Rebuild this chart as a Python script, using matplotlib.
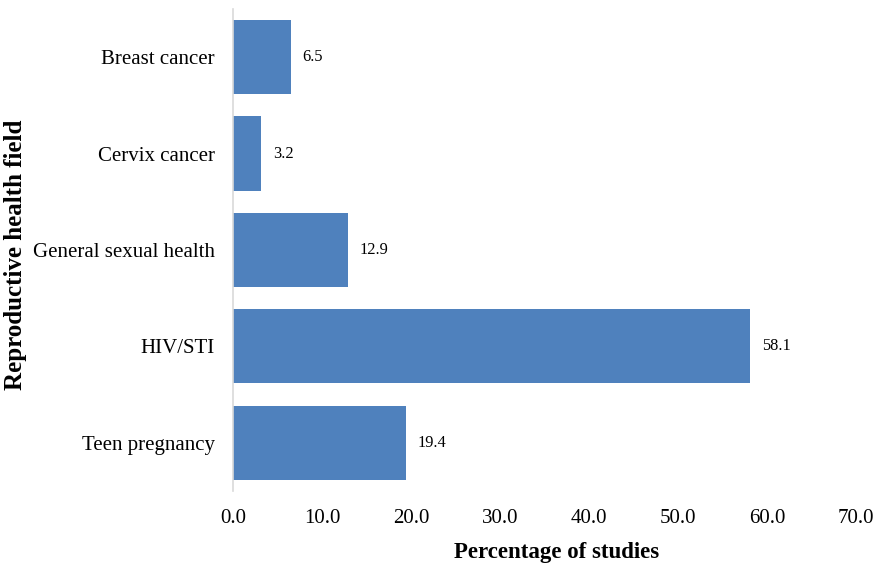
import matplotlib
matplotlib.use("Agg")
import matplotlib.pyplot as plt

# data
fields = ["Breast cancer", "Cervix cancer", "General sexual health", "HIV/STI", "Teen pregnancy"]
percent = [6.5, 3.2, 12.9, 58.1, 19.4]
xticks = [0, 10, 20, 30, 40, 50, 60, 70]

plt.rcParams["font.family"] = ["Liberation Serif", "DejaVu Serif"]

fig = plt.figure(figsize=(8.81, 5.63), dpi=100)
ax = fig.add_axes([0.2645, 0.128, 0.707, 0.856])

pos = list(range(len(fields)))
bars = ax.barh(pos, percent, height=0.77, color="#4F81BD")
ax.set_ylim(len(fields) - 0.5, -0.5)
ax.set_xlim(0, 70)
ax.set_yticks(pos)
ax.set_yticklabels(fields, fontsize=15)
ax.set_xticks(xticks)
ax.set_xticklabels(["%.1f" % t for t in xticks], fontsize=15)
ax.tick_params(axis="x", length=0, pad=13)
ax.tick_params(axis="y", length=0, pad=13)

for b, v in zip(bars, percent):
    ax.annotate("%.1f" % v, (b.get_width(), b.get_y() + b.get_height() / 2),
                xytext=(8.5, 0), textcoords="offset points", va="center", fontsize=11.8)

for s in ["top", "right", "bottom"]:
    ax.spines[s].set_visible(False)
ax.spines["left"].set_color("#d9d9d9")
ax.spines["left"].set_linewidth(1.2)

ax.set_xlabel("Percentage of studies", fontsize=16.5, fontweight="bold")
ax.set_ylabel("Reproductive health field", fontsize=18, fontweight="bold")
ax.xaxis.set_label_coords(0.52, -0.105)
ax.yaxis.set_label_coords(-0.33, 0.49)

fig.savefig("out.png", dpi=100)
